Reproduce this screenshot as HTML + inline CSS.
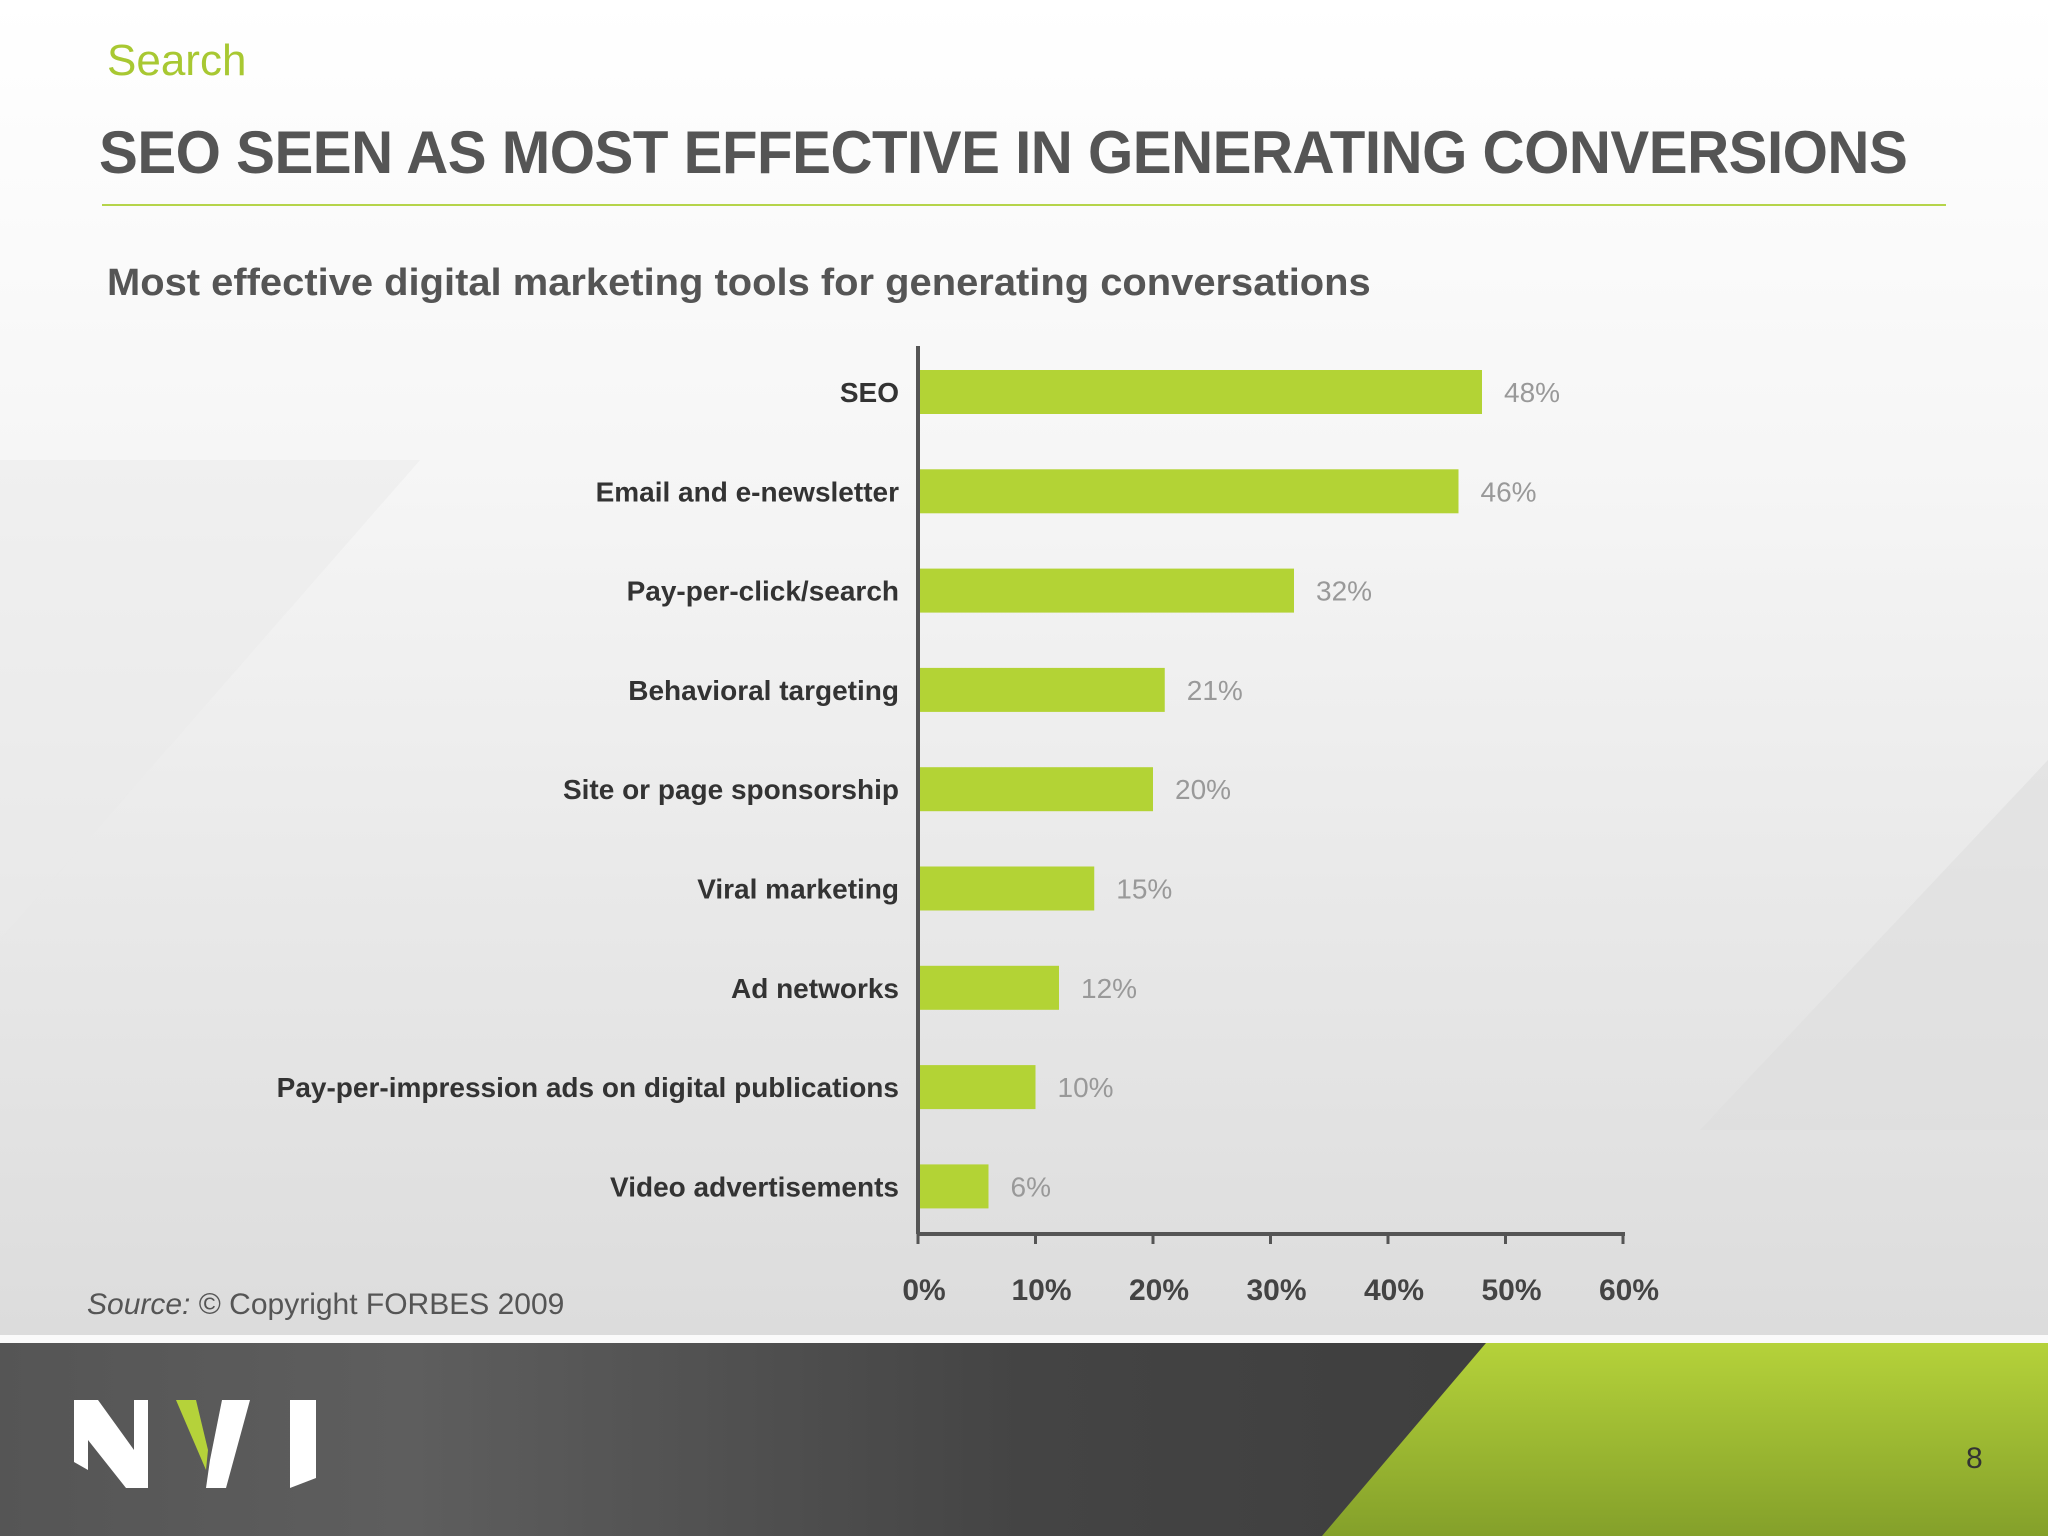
<!DOCTYPE html>
<html><head><meta charset="utf-8"><style>
body{margin:0;width:2048px;height:1536px;overflow:hidden;position:relative;font-family:"Liberation Sans",sans-serif;
background:linear-gradient(180deg,#ffffff 0%,#f6f6f6 30%,#e8e8e8 60%,#dcdcdc 87%);}
.abs{position:absolute}
</style></head><body>
<svg class="abs" style="left:0;top:0" width="2048" height="1536">
<polygon points="0,940 420,460 0,460" fill="#e9e9e9" opacity="0.5"/>
<polygon points="1700,1130 2048,760 2048,1130" fill="#dedede" opacity="0.6"/>
</svg>
<div class="abs" style="left:107px;top:36px;font-size:44px;color:#a8c832">Search</div>
<div class="abs" style="left:99px;top:118px;font-size:60px;font-weight:bold;color:#555;letter-spacing:-0.5px;white-space:nowrap;transform-origin:0 0;transform:scaleX(0.97)">SEO SEEN AS MOST EFFECTIVE IN GENERATING CONVERSIONS</div>
<div class="abs" style="left:102px;top:204px;width:1844px;height:2px;background:#b5d44a"></div>
<div class="abs" style="left:107px;top:262px;font-size:38px;font-weight:bold;color:#555;white-space:nowrap;transform-origin:0 0;transform:scaleX(1.05)">Most effective digital marketing tools for generating conversations</div>
<svg id="chart" class="abs" style="left:0;top:0" width="2048" height="1340"></svg>
<div class="abs" style="left:87px;top:1288px;font-size:30px;color:#555"><i>Source:</i> © Copyright FORBES 2009</div>
<svg class="abs" style="left:0;top:1335px" width="2048" height="201">
<defs>
<linearGradient id="dk" x1="0" y1="0" x2="1" y2="0"><stop offset="0" stop-color="#555"/><stop offset="0.2" stop-color="#5e5e5e"/><stop offset="0.5" stop-color="#444"/><stop offset="1" stop-color="#383838"/></linearGradient>
<linearGradient id="gr" x1="0" y1="0" x2="0" y2="1"><stop offset="0" stop-color="#b5d23a"/><stop offset="1" stop-color="#84a02a"/></linearGradient>
</defs>
<rect x="0" y="0" width="2048" height="8" fill="#fafafa"/>
<rect x="0" y="8" width="2048" height="193" fill="url(#dk)"/>
<polygon points="1486,8 2048,8 2048,201 1322,201" fill="url(#gr)"/>
<g>
<polygon points="74,1400 98,1400 134,1450 134,1400 148,1400 148,1488 126,1488 88,1440 88,1470 74,1462" transform="translate(0,-1335)" fill="#fff"/>
<polygon points="176,1400 196,1400 208,1450 206,1470" transform="translate(0,-1335)" fill="#b5d23a"/>
<polygon points="222,1400 250,1400 226,1488 206,1488 210,1460" transform="translate(0,-1335)" fill="#fff"/>
<polygon points="290,1400 316,1400 316,1478 290,1488" transform="translate(0,-1335)" fill="#fff"/>
</g>
<text x="1966" y="133" font-size="30" fill="#333" font-family="Liberation Sans">8</text>
</svg>
<script>
const categories=["SEO","Email and e-newsletter","Pay-per-click/search","Behavioral targeting","Site or page sponsorship","Viral marketing","Ad networks","Pay-per-impression ads on digital publications","Video advertisements"];
const values=[48,46,32,21,20,15,12,10,6];
const ticks=[0,10,20,30,40,50,60];
const tickLabels=["0%","10%","20%","30%","40%","50%","60%"];
const svg=document.getElementById('chart');const NS="http://www.w3.org/2000/svg";
const x0=918,pxPer=11.75,y0=392,step=99.3,bh=44,axisY=1234;
const X=v=>x0+v*pxPer, Y=i=>y0+i*step;
function mk(t,a){const e=document.createElementNS(NS,t);for(const k in a)e.setAttribute(k,a[k]);svg.appendChild(e);return e;}
categories.forEach((c,i)=>{
 const r=mk('rect',{x:X(0),y:Y(i)-bh/2,width:X(values[i])-X(0),height:bh,fill:'#b3d335'});
 
 
 const l=mk('text',{x:899,y:Y(i)+10,'text-anchor':'end','font-size':28,'font-weight':'bold',fill:'#333','font-family':'Liberation Sans'});
 l.textContent=c;
 
 
 const v=mk('text',{x:X(values[i])+22,y:Y(i)+10,'font-size':28,fill:'#999','font-family':'Liberation Sans'});
 v.textContent=values[i]+'%';
 
 
});
const ya=mk('line',{x1:X(0),y1:346,x2:X(0),y2:axisY,stroke:'#555','stroke-width':4});


const xa=mk('line',{x1:X(0),y1:axisY,x2:X(60)+2,y2:axisY,stroke:'#555','stroke-width':4});


ticks.forEach((t,i)=>{
 const tk=mk('line',{x1:X(t),y1:axisY,x2:X(t),y2:axisY+10,stroke:'#555','stroke-width':3});
 
 
 const tl=mk('text',{x:X(t)+6,y:axisY+66,'text-anchor':'middle','font-size':30,'font-weight':'bold',fill:'#444','font-family':'Liberation Sans'});
 tl.textContent=tickLabels[i];
 
 
});
</script>
</body></html>
